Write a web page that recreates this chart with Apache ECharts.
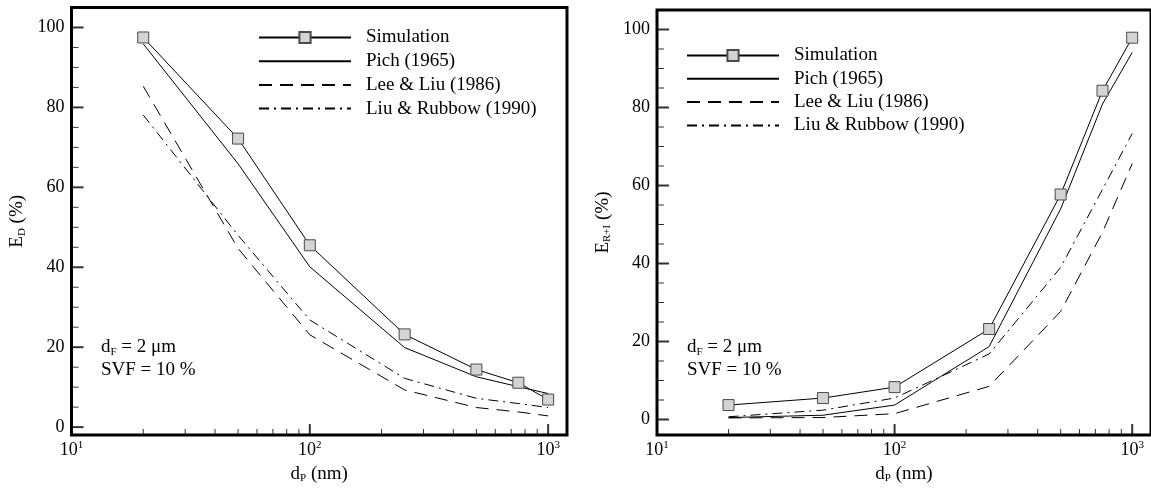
<!DOCTYPE html>
<html>
<head>
<meta charset="utf-8">
<script src="https://cdn.jsdelivr.net/npm/echarts@6/dist/echarts.min.js"></script>
<style>
  html, body { margin: 0; padding: 0; background: #fff; }
  #chart { width: 1151px; height: 489px; }
</style>
</head>
<body>
<div id="chart"></div>
<script>
// Particle diameters d_P (nm) at which the efficiencies are reported
const particleSizes = [20, 50, 100, 250, 500, 750, 1000];

const seriesNames = ['Simulation', 'Pich (1965)', 'Lee & Liu (1986)', 'Liu & Rubbow (1990)'];

// Diffusion efficiency E_D (%)
const diffSimulation = [97.5, 72.2, 45.5, 23.2, 14.4, 11.1, 6.9];
const diffPich       = [95.9, 65.9, 40.1, 19.9, 12.6, 10.1, 8.4];
const diffLeeLiu     = [85.3, 44.7, 23.1, 9.3, 4.9, 3.8, 2.8];
const diffLiuRubbow  = [78.1, 48.0, 26.8, 12.2, 7.2, 5.9, 4.9];

// Interception + inertial impaction efficiency E_R+I (%)
const riSimulation = [3.7, 5.5, 8.3, 23.2, 57.7, 84.3, 97.9];
const riPich       = [0.5, 1.1, 3.7, 18.7, 54.0, 80.9, 94.1];
const riLeeLiu     = [0.4, 0.5, 1.5, 8.5, 27.7, 48.0, 65.6];
const riLiuRubbow  = [0.7, 2.4, 5.5, 16.8, 39.0, 59.0, 73.3];

// Tick values
const yMajorTicks = [0, 20, 40, 60, 80, 100];
const yMinorTicks = [5, 10, 15, 25, 30, 35, 45, 50, 55, 65, 70, 75, 85, 90, 95];
const xMajorTicks = [10, 100, 1000];
const xMinorTicks = [20, 30, 40, 50, 60, 70, 80, 90, 200, 300, 400, 500, 600, 700, 800, 900];

// Axis ranges of the two panels
const X_MIN = 10, X_MAX = 1200;
const Y_MIN = [-2, -4], Y_MAX = 105;

const FONT = '"Liberation Serif", "Times New Roman", serif';

const chart = echarts.init(document.getElementById('chart'), null, { renderer: 'canvas' });

function pairs(values) {
  return particleSizes.map((x, i) => [x, values[i]]);
}

const lineStyles = [
  { color: '#000', width: 1, type: 'solid' },
  { color: '#000', width: 1, type: 'solid' },
  { color: '#000', width: 1, type: [13, 8] },
  { color: '#000', width: 1, type: [10, 5, 2, 5] }
];

function makeSeries(grid, valuesList) {
  return valuesList.map((vals, k) => ({
    type: 'line',
    name: seriesNames[k],
    xAxisIndex: grid * 2,
    yAxisIndex: grid * 2,
    data: pairs(vals),
    symbol: k === 0 ? 'rect' : 'none',
    symbolSize: 11,
    showSymbol: k === 0,
    lineStyle: lineStyles[k],
    itemStyle: k === 0
      ? { color: '#d4d4d4', borderColor: '#4a4a4a', borderWidth: 1 }
      : { color: '#000' },
    emphasis: { disabled: true },
    z: k === 0 ? 5 : 3
  }));
}

// Inward tick marks along the bottom (log) axis, placed through the axes' own scales
function xTickSeries(grid, values, len, width) {
  return {
    type: 'scatter',
    xAxisIndex: grid * 2,
    yAxisIndex: grid * 2,
    data: values.map(v => [v, Y_MIN[grid]]),
    symbol: 'rect',
    symbolSize: [width, len],
    symbolOffset: [0, -len / 2],
    itemStyle: { color: '#000' },
    clip: false,
    silent: true,
    emphasis: { disabled: true },
    z: 6
  };
}

// Inward tick marks along the left (value) axis
function yTickSeries(grid, values, len, width) {
  return {
    type: 'scatter',
    xAxisIndex: grid * 2,
    yAxisIndex: grid * 2,
    data: values.map(v => [X_MIN, v]),
    symbol: 'rect',
    symbolSize: [len, width],
    symbolOffset: [len / 2, 0],
    itemStyle: { color: '#000' },
    clip: false,
    silent: true,
    emphasis: { disabled: true },
    z: 6
  };
}

function xAxes(grid) {
  return [
    {
      type: 'log', logBase: 10, min: X_MIN, max: X_MAX, gridIndex: grid,
      axisLine: { show: false, onZero: false },
      splitLine: { show: false },
      axisTick: { show: false },
      axisLabel: {
        customValues: xMajorTicks, margin: 5, color: '#000',
        formatter: v => '{b|10}{e|' + Math.round(Math.log10(v)) + '}',
        rich: {
          b: { fontFamily: FONT, fontSize: 18, color: '#000' },
          e: { fontFamily: FONT, fontSize: 11, color: '#000', padding: [0, 0, 10, 0] }
        }
      },
      name: '{n|d}{s|P}{n| (nm)}',
      nameLocation: 'middle',
      nameGap: 20,
      nameTextStyle: {
        rich: {
          n: { fontFamily: FONT, fontSize: 19, color: '#000' },
          s: { fontFamily: FONT, fontSize: 11, color: '#000', padding: [9, 0, 0, 0] }
        }
      }
    },
    {
      type: 'log', logBase: 10, min: X_MIN, max: X_MAX, gridIndex: grid, show: false
    }
  ];
}

function yAxes(grid, titleMain, titleSub) {
  return [
    {
      type: 'value', min: Y_MIN[grid], max: Y_MAX, gridIndex: grid, position: 'left',
      axisLine: { show: false, onZero: false },
      splitLine: { show: false },
      axisTick: { show: false },
      axisLabel: { customValues: yMajorTicks, margin: 7, color: '#000', fontFamily: FONT, fontSize: 18 },
      name: '{n|' + titleMain + '}{s|' + titleSub + '}{n| (%)}',
      nameLocation: 'middle',
      nameRotate: 90,
      nameGap: 44,
      nameTextStyle: {
        rich: {
          n: { fontFamily: FONT, fontSize: 19, color: '#000' },
          s: { fontFamily: FONT, fontSize: 11, color: '#000', padding: [9, 0, 0, 0] }
        }
      }
    },
    {
      type: 'value', min: Y_MIN[grid], max: Y_MAX, gridIndex: grid, show: false
    }
  ];
}

function legendFor(left, top, gap) {
  return {
    orient: 'vertical',
    left: left, top: top,
    padding: 0,
    itemWidth: 92, itemHeight: 14, itemGap: gap,
    selectedMode: false,
    data: seriesNames.map((n, k) => k === 0 ? { name: n } : { name: n, itemStyle: { opacity: 0 } }),
    textStyle: { fontFamily: FONT, fontSize: 19, color: '#000', padding: [0, 0, 0, 10] }
  };
}

function noteText(x, y) {
  return {
    type: 'text', x: x, y: y,
    style: {
      text: '{n|d}{s|F}{n| = 2 μm}\n{n|SVF = 10 %}',
      rich: {
        n: { fontFamily: FONT, fontSize: 19, lineHeight: 23, fill: '#000' },
        s: { fontFamily: FONT, fontSize: 11, lineHeight: 23, fill: '#000', padding: [9, 0, 0, 0] }
      }
    }
  };
}

const tickSeries = [];
[0, 1].forEach(g => {
  tickSeries.push(xTickSeries(g, xMajorTicks.filter(v => v > X_MIN), 11, 2));
  tickSeries.push(xTickSeries(g, xMinorTicks, 6, 1));
  tickSeries.push(yTickSeries(g, yMajorTicks, 12, 2));
  tickSeries.push(yTickSeries(g, yMinorTicks, 7, 1));
});

chart.setOption({
  animation: false,
  backgroundColor: '#fff',
  grid: [
    { left: 71.5, top: 7.5, width: 495.5, height: 430.2, show: true, borderColor: '#000', borderWidth: 3, backgroundColor: 'transparent' },
    { left: 657, top: 10, width: 500.5, height: 427.7, show: true, borderColor: '#000', borderWidth: 3, backgroundColor: 'transparent' }
  ],
  xAxis: [...xAxes(0), ...xAxes(1)],
  yAxis: [...yAxes(0, 'E', 'D'), ...yAxes(1, 'E', 'R+I')],
  legend: [legendFor(258, 28, 4.7), legendFor(686, 46, 4.3)],
  series: [
    ...makeSeries(0, [diffSimulation, diffPich, diffLeeLiu, diffLiuRubbow]),
    ...makeSeries(1, [riSimulation, riPich, riLeeLiu, riLiuRubbow]),
    ...tickSeries
  ],
  graphic: [noteText(101, 336), noteText(687, 336)]
});
</script>
</body>
</html>
